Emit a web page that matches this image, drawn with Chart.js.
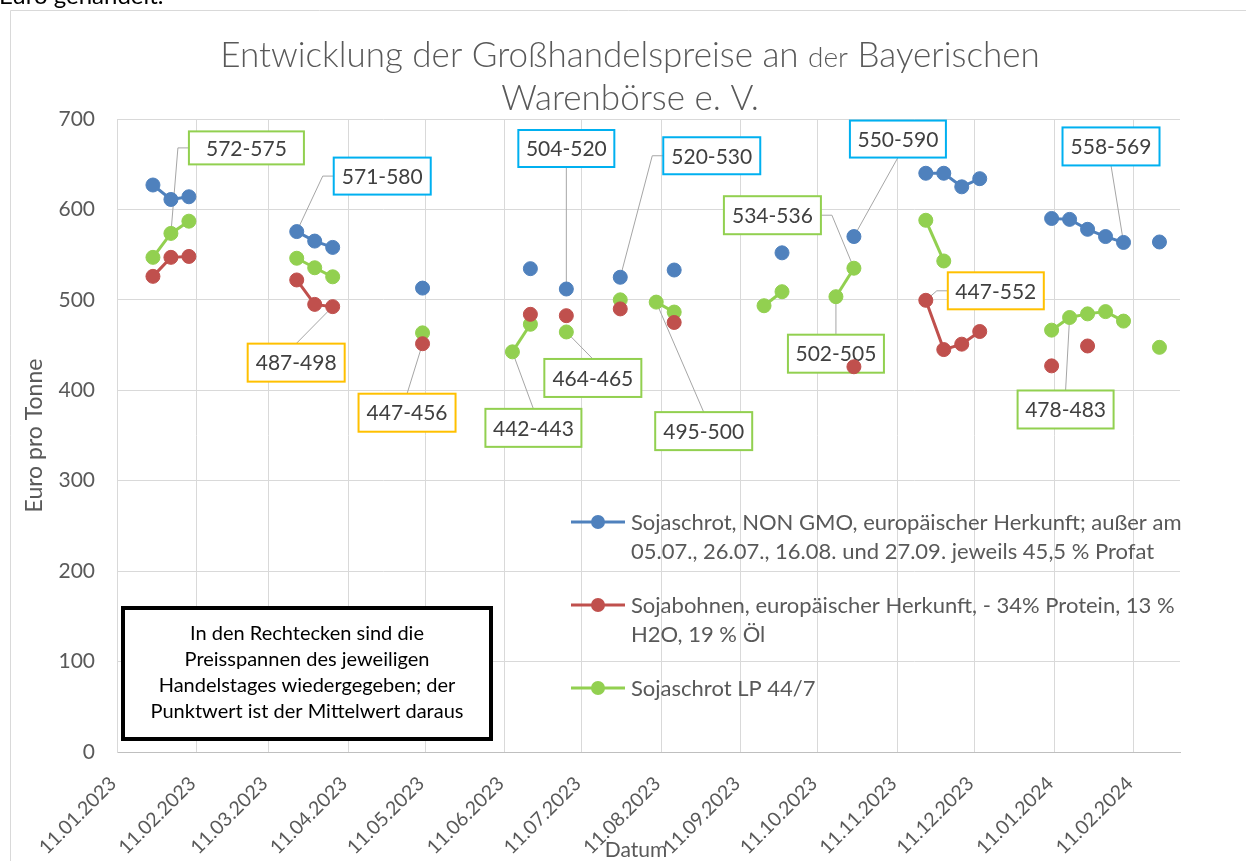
<!DOCTYPE html>
<html lang="de">
<head>
<meta charset="utf-8">
<title>Großhandelspreise Bayerische Warenbörse</title>
<script src="https://cdn.jsdelivr.net/npm/chart.js@4.4.1/dist/chart.umd.min.js"></script>
<style>
  html, body { margin: 0; padding: 0; background: #fff; overflow: hidden; }
  #wrap { position: relative; width: 1246px; height: 861px; }
</style>
</head>
<body>
<div id="wrap"><canvas id="priceChart" width="1246" height="861"></canvas></div>
<script>
// Handelstage (jeweils Mittwoch)
const tradeDates = [
    '25.01.2023', '01.02.2023', '08.02.2023', '22.03.2023', '29.03.2023', '05.04.2023',
    '10.05.2023', '14.06.2023', '21.06.2023', '05.07.2023', '26.07.2023', '09.08.2023',
    '16.08.2023', '20.09.2023', '27.09.2023', '18.10.2023', '25.10.2023', '22.11.2023',
    '29.11.2023', '06.12.2023', '13.12.2023', '10.01.2024', '17.01.2024', '24.01.2024',
    '31.01.2024', '07.02.2024', '21.02.2024'
];

// Euro pro Tonne (Mittelwert der Preisspanne)
const sojaschrotNonGmo = [
    627, 611, 614, 575.5, 565, 558,
    513, null, 534.5, 512, 525, null,
    533, null, 552, null, 570, 640,
    640, 625, 634, 590, 589, 578,
    570, 563.5, 564
];
const sojabohnen = [
    526, 547, 548, 522, 495, 492.5,
    451.5, null, 484, 482.5, 490, null,
    475, null, null, null, 426, 499.5,
    445, 451, 465, 427, null, 449,
    null, null, null
];
const sojaschrotLP = [
    547, 573.5, 587, 546, 535.5, 525.5,
    463.5, 442.5, 473, 464.5, 500, 497.5,
    486.5, 493.5, 509, 503.5, 535, 588,
    543, null, null, 466.5, 480.5, 484.5,
    487, 476.5, 447.5
];

const seriesNames = [
    ['Sojaschrot, NON GMO, europäischer Herkunft; außer am', '05.07., 26.07., 16.08. und 27.09. jeweils 45,5 % Profat'],
    ['Sojabohnen, europäischer Herkunft, - 34% Protein, 13 %', 'H2O, 19 % Öl'],
    ['Sojaschrot LP 44/7']
];
const seriesColors = ['#4F81BD', '#C0504D', '#92D050'];

const xTickLabels = [
    '11.01.2023', '11.02.2023', '11.03.2023', '11.04.2023', '11.05.2023', '11.06.2023', '11.07.2023',
    '11.08.2023', '11.09.2023', '11.10.2023', '11.11.2023', '11.12.2023', '11.01.2024', '11.02.2024'
];
const xMaxDate = '29.02.2024';

// Preisspannen in den Rechtecken
const calloutTexts = ['572-575', '571-580', '487-498', '447-456', '504-520', '520-530', '534-536', '550-590',
    '442-443', '464-465', '495-500', '502-505', '447-552', '558-569', '478-483'];
const calloutSeries = [2, 0, 1, 1, 0, 0, 2, 0, 2, 2, 2, 2, 1, 0, 2];
const calloutDates = ['01.02.2023', '22.03.2023', '05.04.2023', '10.05.2023', '05.07.2023', '26.07.2023',
    '25.10.2023', '25.10.2023', '14.06.2023', '05.07.2023', '09.08.2023', '18.10.2023', '22.11.2023',
    '07.02.2024', '17.01.2024'];
// box offset from its point [dx, dy, w, h, side of leader]
const calloutLayout = [
    [18, -102, 115, 33, 'left'], [37, -74, 97, 37, 'left'], [-85, 37, 97, 38, 'top'],
    [-64, 50, 97, 38, 'top'], [-48, -159, 96, 37, 'bottom'], [43, -140, 97, 37, 'left'],
    [-130, -72, 97, 38, 'right'], [-4, -116, 96, 37, 'bottom'], [-27, 57, 96, 38, 'top'],
    [-22, 27, 97, 38, 'top'], [-1, 110, 97, 38, 'top'], [-48, 38, 96, 38, 'top'],
    [22, -28, 96, 37, 'left'], [-61, -115, 97, 38, 'bottom'], [-52, 73, 96, 38, 'top']
];
const calloutColors = ['#00B0F0', '#FFC000', '#92D050'];

const noteLines = ['In den Rechtecken sind die', 'Preisspannen des jeweiligen',
    'Handelstages wiedergegeben; der', 'Punktwert ist der Mittelwert daraus'];

const FONT = 'Lato, "Open Sans", sans-serif';
const GREY = '#595959';

function dayNum(s) {
    const [d, m, y] = s.split('.').map(Number);
    return Date.UTC(y, m - 1, d) / 86400000;
}

function toPoints(values) {
    return tradeDates.map((d, i) => ({ x: dayNum(d), y: values[i] }));
}

// no line across a missing trading week
const weekGap = ctx => (ctx.p1.parsed.x - ctx.p0.parsed.x > 7 ? 'transparent' : undefined);

function createDataset(idx, values) {
    return {
        label: seriesNames[idx].join(' '),
        data: toPoints(values),
        borderColor: seriesColors[idx],
        backgroundColor: seriesColors[idx],
        pointBackgroundColor: seriesColors[idx],
        pointBorderColor: seriesColors[idx],
        borderWidth: 3,
        pointRadius: 7,
        pointBorderWidth: 1,
        tension: 0,
        spanGaps: false,
        segment: { borderColor: weekGap }
    };
}

const framePlugin = {
    id: 'frame',
    beforeDraw(chart) {
        const ctx = chart.ctx;
        ctx.save();
        ctx.fillStyle = '#fff';
        ctx.fillRect(0, 0, chart.width, chart.height);
        ctx.strokeStyle = '#d9d9d9';
        ctx.lineWidth = 1;
        ctx.beginPath();
        ctx.moveTo(10.5, chart.height);
        ctx.lineTo(10.5, 10.5);
        ctx.lineTo(chart.width, 10.5);
        ctx.stroke();
        ctx.fillStyle = '#000';
        ctx.font = '24px ' + FONT;
        ctx.textBaseline = 'alphabetic';
        ctx.fillText('Euro gehandelt.', -1, 4);
        ctx.restore();
    }
};

const calloutPlugin = {
    id: 'callouts',
    beforeDatasetsDraw(chart) {
        const ctx = chart.ctx;
        ctx.save();
        calloutTexts.forEach((text, i) => {
            const meta = chart.getDatasetMeta(calloutSeries[i]);
            const pt = meta.data[tradeDates.indexOf(calloutDates[i])];
            const [dx, dy, w, h, side] = calloutLayout[i];
            const bx = pt.x + dx, by = pt.y + dy;
            ctx.strokeStyle = '#a6a6a6';
            ctx.lineWidth = 1;
            ctx.beginPath();
            ctx.moveTo(pt.x, pt.y);
            if (side === 'left') {
                ctx.lineTo(bx - 11, by + h / 2);
                ctx.lineTo(bx, by + h / 2);
            } else if (side === 'right') {
                ctx.lineTo(bx + w + 11, by + h / 2);
                ctx.lineTo(bx + w, by + h / 2);
            } else if (side === 'top') {
                ctx.lineTo(bx + w / 2, by);
            } else {
                ctx.lineTo(bx + w / 2, by + h);
            }
            ctx.stroke();
            ctx.fillStyle = '#fff';
            ctx.fillRect(bx, by, w, h);
            ctx.strokeStyle = calloutColors[calloutSeries[i]];
            ctx.lineWidth = 2;
            ctx.strokeRect(bx, by, w, h);
            ctx.fillStyle = '#404040';
            ctx.font = '21px ' + FONT;
            ctx.textAlign = 'center';
            ctx.textBaseline = 'middle';
            ctx.fillText(text, bx + w / 2, by + h / 2 + 1);
        });
        ctx.restore();
    }
};

const notePlugin = {
    id: 'note',
    afterDatasetsDraw(chart) {
        const ctx = chart.ctx;
        ctx.save();
        ctx.fillStyle = '#fff';
        ctx.fillRect(121, 606, 372, 135);
        ctx.strokeStyle = '#000';
        ctx.lineWidth = 4;
        ctx.strokeRect(123, 608, 368, 131);
        ctx.fillStyle = '#000';
        ctx.font = '20px ' + FONT;
        ctx.textAlign = 'center';
        ctx.textBaseline = 'middle';
        noteLines.forEach((line, i) => ctx.fillText(line, 307, 634 + i * 26));
        ctx.restore();
    }
};

const legendPlugin = {
    id: 'sideLegend',
    afterDraw(chart) {
        const ctx = chart.ctx;
        const rows = [522, 605, 688];
        ctx.save();
        seriesNames.forEach((lines, i) => {
            const y = rows[i];
            ctx.strokeStyle = seriesColors[i];
            ctx.lineWidth = 3;
            ctx.beginPath();
            ctx.moveTo(571, y);
            ctx.lineTo(625, y);
            ctx.stroke();
            ctx.fillStyle = seriesColors[i];
            ctx.beginPath();
            ctx.arc(598, y, 7, 0, Math.PI * 2);
            ctx.fill();
            ctx.fillStyle = GREY;
            ctx.font = '22px ' + FONT;
            ctx.textAlign = 'left';
            ctx.textBaseline = 'middle';
            lines.forEach((t, k) => ctx.fillText(t, 631, y + 1 + k * 29));
        });
        ctx.restore();
    }
};

const titlePlugin = {
    id: 'mixedTitle',
    afterDraw(chart) {
        const ctx = chart.ctx;
        const parts = [
            ['Entwicklung der Großhandelspreise an ', 35],
            ['der', 28],
            [' Bayerischen', 35]
        ];
        ctx.save();
        ctx.fillStyle = GREY;
        ctx.textBaseline = 'alphabetic';
        ctx.textAlign = 'left';
        let total = 0;
        parts.forEach(([t, s]) => { ctx.font = '300 ' + s + 'px ' + FONT; total += ctx.measureText(t).width; });
        let x = 630 - total / 2;
        parts.forEach(([t, s]) => {
            ctx.font = '300 ' + s + 'px ' + FONT;
            ctx.fillText(t, x, 67);
            x += ctx.measureText(t).width;
        });
        ctx.font = '300 35px ' + FONT;
        ctx.textAlign = 'center';
        ctx.fillText('Warenbörse e. V.', 630, 110);
        ctx.font = '21px ' + FONT;
        ctx.textBaseline = 'middle';
        ctx.fillText('Datum', 636, 850);
        ctx.restore();
    }
};

new Chart(document.getElementById('priceChart').getContext('2d'), {
    type: 'line',
    data: {
        datasets: [
            createDataset(0, sojaschrotNonGmo),
            createDataset(1, sojabohnen),
            createDataset(2, sojaschrotLP)
        ]
    },
    options: {
        responsive: false,
        animation: false,
        events: [],
        layout: { padding: { left: 0, top: 119, right: 66, bottom: 0 } },
        plugins: {
            legend: { display: false },
            title: { display: false },
            tooltip: { enabled: false }
        },
        scales: {
            x: {
                type: 'linear',
                min: dayNum(xTickLabels[0]),
                max: dayNum(xMaxDate),
                afterBuildTicks: scale => {
                    scale.ticks = xTickLabels.map(l => ({ value: dayNum(l) }));
                },
                afterFit: scale => { scale.height = 109; },
                grid: { color: '#d9d9d9', drawTicks: false },
                border: { color: '#bfbfbf' },
                ticks: {
                    autoSkip: false,
                    minRotation: 45,
                    maxRotation: 45,
                    padding: 20,
                    labelOffset: -4,
                    color: GREY,
                    font: { family: FONT, size: 19.5 },
                    callback: (value, index) => xTickLabels[index]
                }
            },
            y: {
                min: 0,
                max: 700,
                afterFit: scale => { scale.width = 117; },
                grid: { color: '#d9d9d9', drawTicks: false },
                border: { color: '#d9d9d9' },
                ticks: {
                    stepSize: 100,
                    padding: 22,
                    color: GREY,
                    font: { family: FONT, size: 21 }
                },
                title: {
                    display: true,
                    text: 'Euro pro Tonne',
                    color: GREY,
                    font: { family: FONT, size: 23 },
                    padding: { top: 21 }
                }
            }
        }
    },
    plugins: [framePlugin, calloutPlugin, notePlugin, legendPlugin, titlePlugin]
});
</script>
</body>
</html>
